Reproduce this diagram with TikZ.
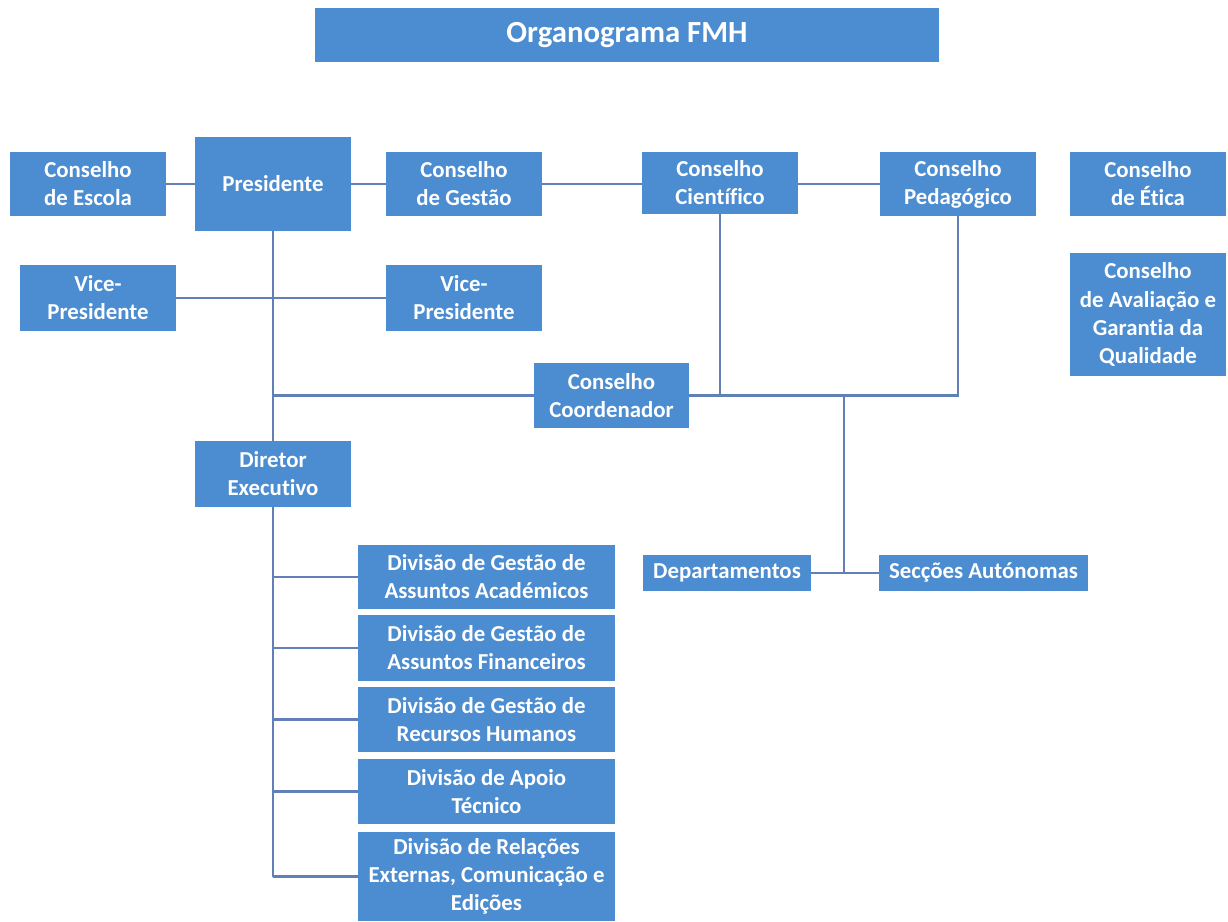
\documentclass[tikz,border=0pt]{standalone}
\usepackage{fontspec}
\setmainfont[Ligatures={NoCommon}]{Carlito}
\usepackage{tikz}
\definecolor{boxblue}{RGB}{76,140,208}
\definecolor{lineblue}{RGB}{96,128,182}

\begin{document}
\begin{tikzpicture}[x=0.02cm,y=-0.02cm,
        box/.style={fill=boxblue,text=white,inner sep=0pt,align=center,font=\fontsize{13}{16}\selectfont\bfseries,minimum width=3.12cm,minimum height=1.28cm},
        link/.style={draw=lineblue,line width=1.2pt}]
        \useasboundingbox(0,0)rectangle(1228,921);
        \node[box,minimum width=12.5cm,minimum height=1.08cm,font=\fontsize{17.5}{20}\selectfont\bfseries](title)at(627,35){Organograma FMH};
        \node[box](cesc)at(88,184){Conselho\\de Escola};
        \node[box,minimum height=1.88cm](pres)at(273,184){Presidente};
        \node[box](cges)at(464,184){Conselho\\de Gestão};
        \node[box,minimum height=1.24cm](ccie)at(720,183){Conselho\\Científico};
        \node[box](cped)at(958,184){Conselho\\Pedagógico};
        \node[box](cetica)at(1148,184){Conselho\\de Ética};
        \node[box,minimum height=2.46cm](caval)at(1148,314.5){Conselho\\de Avaliação e\\Garantia da\\Qualidade};
        \node[box,minimum height=1.32cm](vpa)at(98,298){Vice-\\Presidente};
        \node[box,minimum height=1.32cm](vpb)at(464,298){Vice-\\Presidente};
        \node[box,minimum width=3.1cm,minimum height=1.3cm](ccoord)at(611.5,395.5){Conselho\\Coordenador};
        \node[box,minimum height=1.32cm](dir)at(273,474){Diretor\\Executivo};
        \node[box,minimum width=5.14cm](diva)at(486.5,577){Divisão de Gestão de\\Assuntos Académicos};
        \node[box,minimum width=5.14cm,minimum height=1.32cm](divb)at(486.5,648){Divisão de Gestão de\\Assuntos Financeiros};
        \node[box,minimum width=5.14cm,minimum height=1.3cm](divc)at(486.5,719.5){Divisão de Gestão de\\Recursos Humanos};
        \node[box,minimum width=5.14cm,minimum height=1.3cm](divd)at(486.5,791.5){Divisão de Apoio\\Técnico};
        \node[box,minimum width=5.14cm,minimum height=1.78cm](dive)at(486.5,876.5){Divisão de Relações\\Externas, Comunicação e\\Edições};
        \node[box,minimum width=3.36cm,minimum height=0.72cm](dep)at(727,573){Departamentos};
        \node[box,minimum width=4.18cm,minimum height=0.72cm](secc)at(983.5,573){Secções Autónomas};
        \coordinate(junc)at(844,395.5);

        % top row
        \draw[link](cesc)--(pres);
        \draw[link](pres)--(cges);
        \draw[link](cges.east)--(cges.east-|ccie.west);
        \draw[link](ccie.east|-cped.west)--(cped.west);
        % president trunk
        \draw[link](pres.south)--(dir.north);
        \draw[link](vpa)--(vpb);
        \draw[link](ccoord.west)--(ccoord.west-|pres.south);
        % councils to coordinator
        \draw[link](ccie.south)--(ccie.south|-ccoord.east);
        \draw[link](cped.south)|-(ccoord.east);
        \draw[link](junc)--(junc|-dep.east);
        \draw[link](dep)--(secc);
        % divisions
        \draw[link](dir.south)--(dir.south|-dive.west);
        \foreach \d in {diva,divb,divc,divd,dive}
            \draw[link](\d.west)--(\d.west-|dir.south);
    \end{tikzpicture}
\end{document}
